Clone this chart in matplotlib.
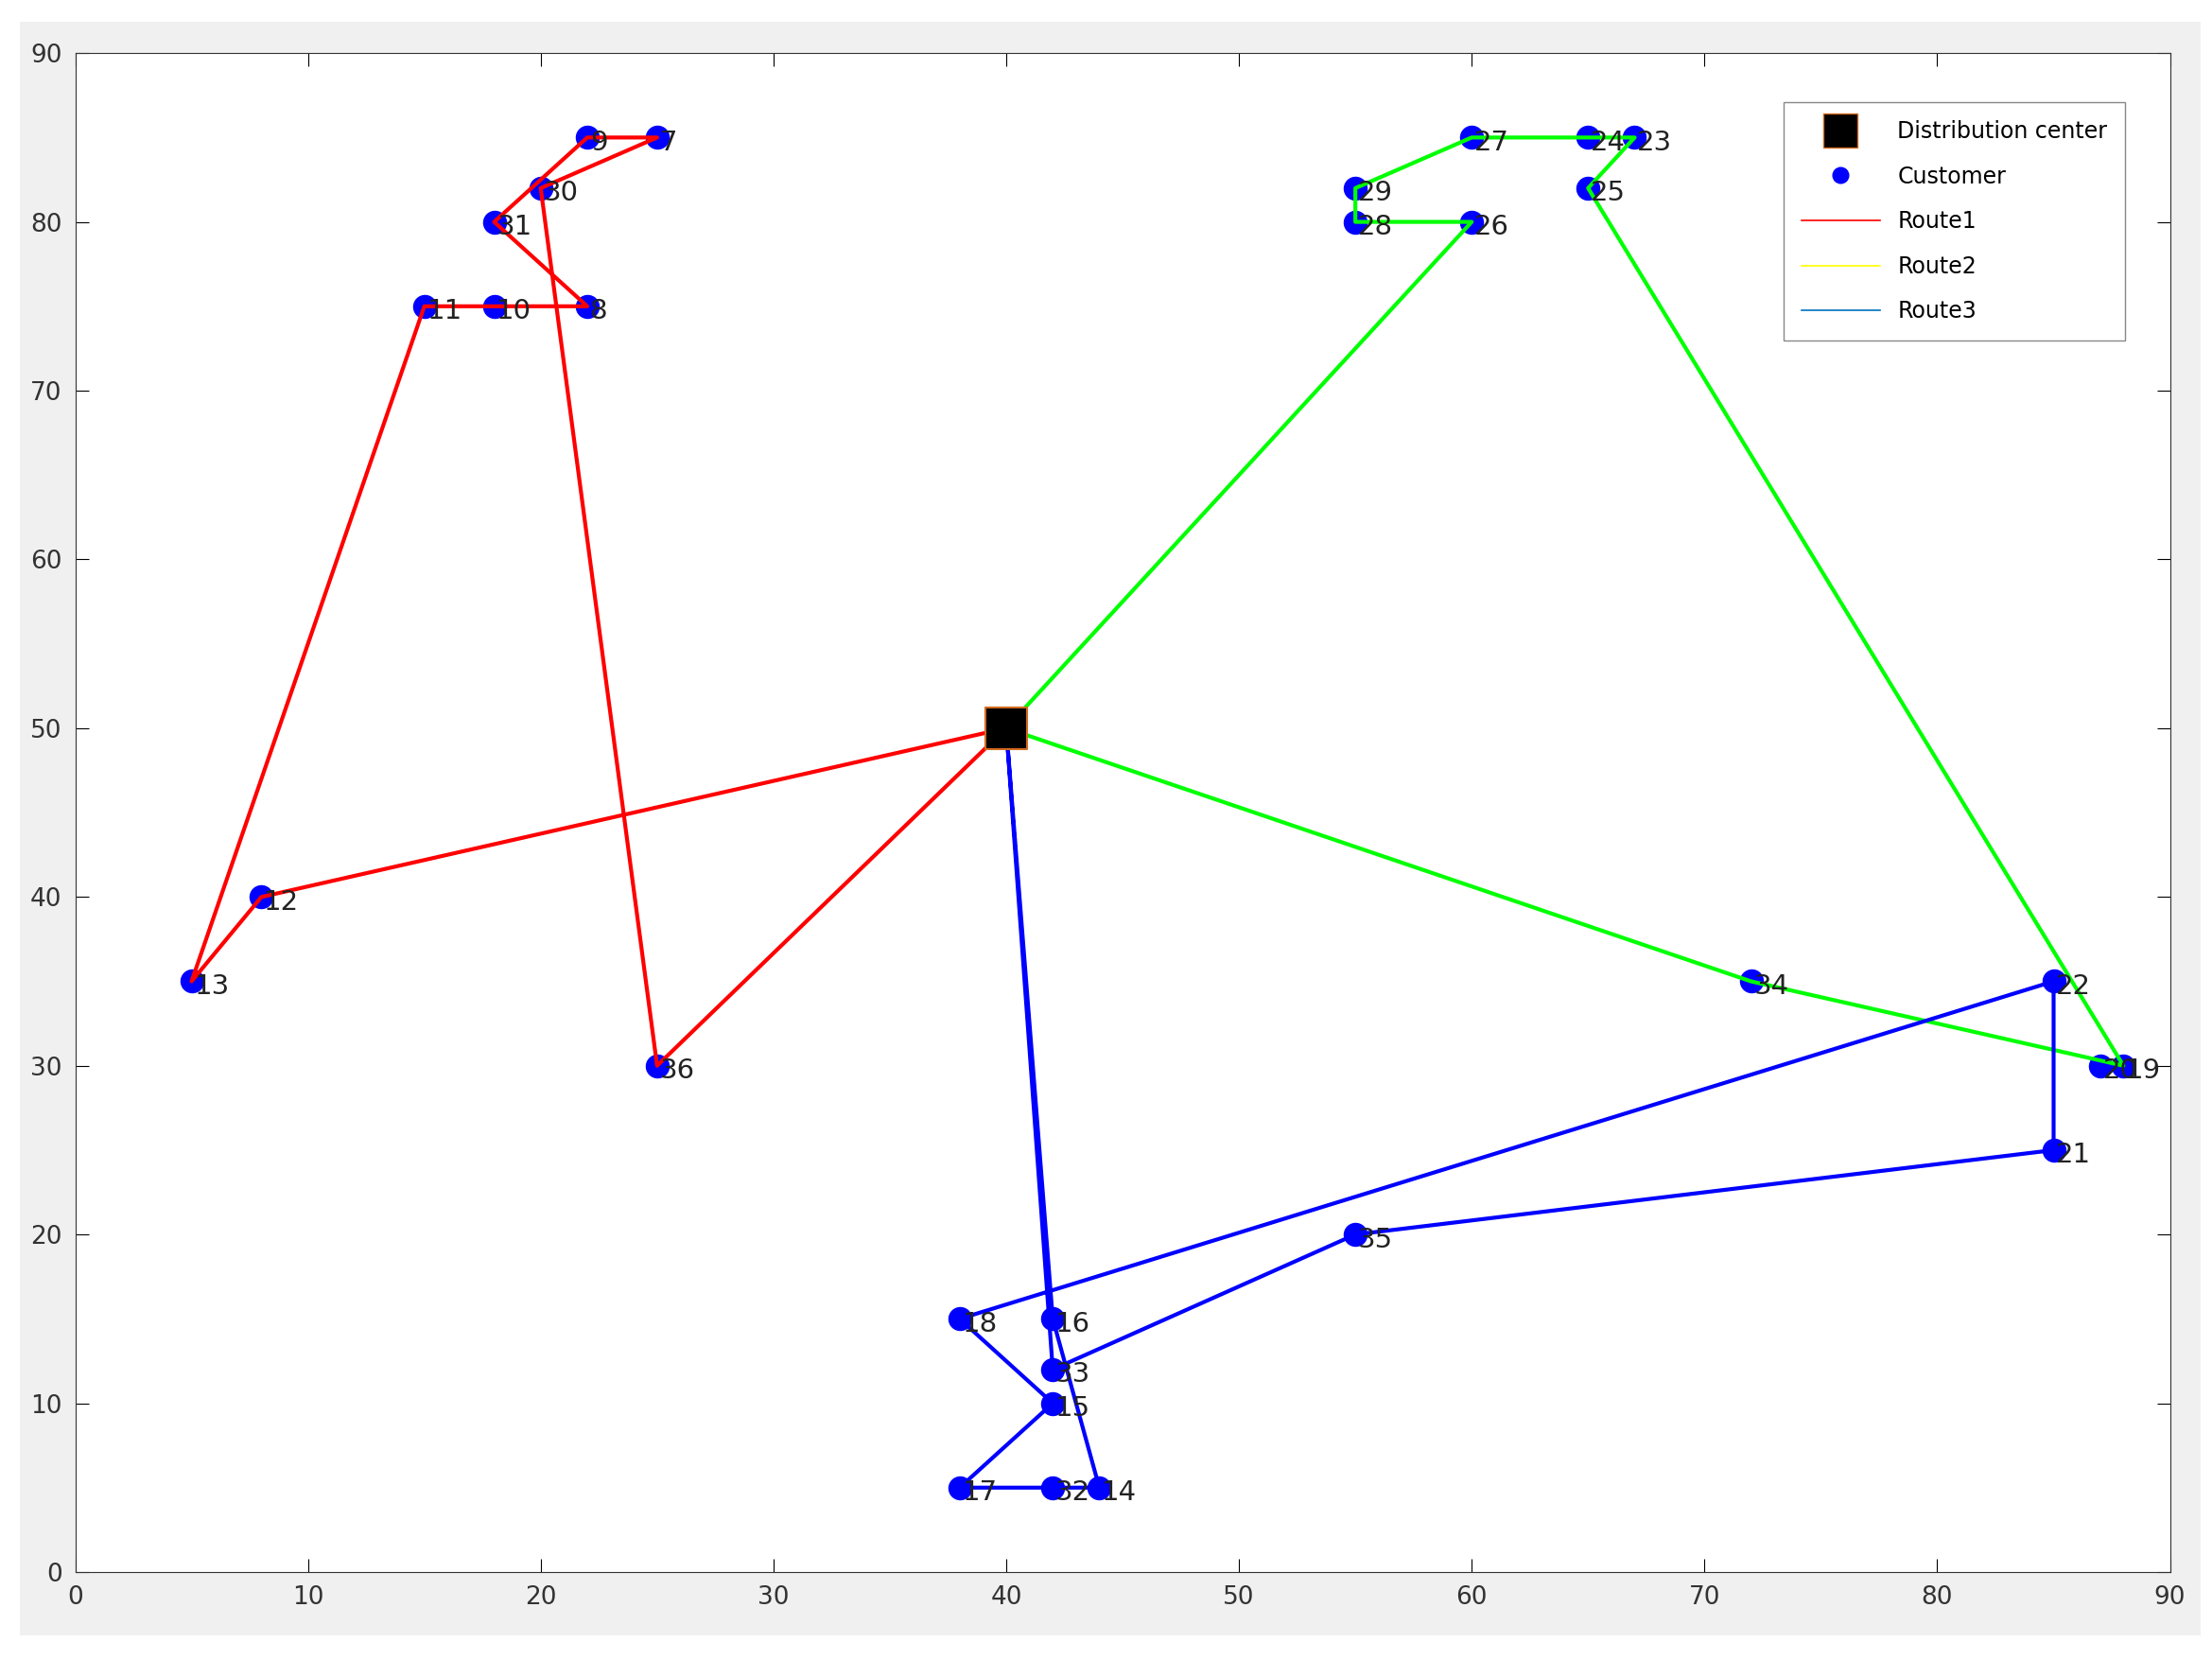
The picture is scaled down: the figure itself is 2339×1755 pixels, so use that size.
import matplotlib
matplotlib.use("Agg")
import matplotlib.pyplot as plt
from matplotlib.patches import Rectangle
from matplotlib.lines import Line2D

depot = (40, 50)
ids = [7, 8, 9, 10, 11, 12, 13, 14, 15, 16, 17, 18, 19, 20, 21, 22, 23, 24, 25, 26, 27, 28, 29, 30, 31, 32, 33, 34, 35, 36]
xs  = [25, 22, 22, 18, 15, 8, 5, 44, 42, 42, 38, 38, 88, 87, 85, 85, 67, 65, 65, 60, 60, 55, 55, 20, 18, 42, 42, 72, 55, 25]
ys  = [85, 75, 85, 75, 75, 40, 35, 5, 10, 15, 5, 15, 30, 30, 25, 35, 85, 85, 82, 80, 85, 80, 82, 82, 80, 5, 12, 35, 20, 30]
route1 = [12, 13, 11, 10, 8, 31, 9, 7, 30, 36]
route2 = [26, 28, 29, 27, 24, 23, 25, 19, 34]
route3 = [16, 14, 32, 17, 15, 18, 22, 21, 35, 33]

pos = {i: (x, y) for i, x, y in zip(ids, xs, ys)}

fig = plt.figure(figsize=(23.39, 17.55), dpi=100)
fig.patch.set_facecolor("white")
fig.patches.append(Rectangle((0.009, 0.015), 0.986, 0.972, transform=fig.transFigure,
                             facecolor="#F0F0F0", edgecolor="none", zorder=-10))
ax = fig.add_axes([0.034, 0.053, 0.947, 0.915])
ax.set_facecolor("white")

for r, c in [(route1, "#FF0000"), (route2, "#00FF00"), (route3, "#0000FF")]:
    pts = [depot] + [pos[i] for i in r] + [depot]
    ax.plot([p[0] for p in pts], [p[1] for p in pts], color=c, lw=3, zorder=3)

ax.scatter(xs, ys, s=300, color="#0000FF", zorder=2)
for i, x, y in zip(ids, xs, ys):
    ax.annotate(str(i), (x, y), xytext=(2, -4), textcoords="offset points", fontsize=21,
                color="#222222", ha="left", va="center", zorder=4)
ax.scatter([depot[0]], [depot[1]], marker="s", s=1000, color="black", edgecolors="#D2691E", lw=1.5, zorder=5)

ax.set_xlim(0, 90)
ax.set_ylim(0, 90)
ax.set_xticks(range(0, 91, 10))
ax.set_yticks(range(0, 91, 10))
ax.tick_params(direction="in", length=10, labelsize=19, labelcolor="#333333", top=True, right=True, pad=10)
for s in ax.spines.values():
    s.set_color("#333333")

handles = [Line2D([], [], marker="s", ls="none", color="black", markeredgecolor="#D2691E", markersize=26),
           Line2D([], [], marker="o", ls="none", color="#0000FF", markersize=12),
           Line2D([], [], color="#FF0000", lw=1.2),
           Line2D([], [], color="#FFFF00", lw=1.2),
           Line2D([], [], color="#0072BD", lw=1.2)]
leg = ax.legend(handles, ["Distribution center", "Customer", "Route1", "Route2", "Route3"],
                loc="upper right", bbox_to_anchor=(0.984, 0.975), fontsize=17, fancybox=False,
                edgecolor="#888888", framealpha=1, labelspacing=1.0, handlelength=3.5, borderpad=0.8)
fig.savefig("out.png", dpi=100, facecolor=fig.get_facecolor())
